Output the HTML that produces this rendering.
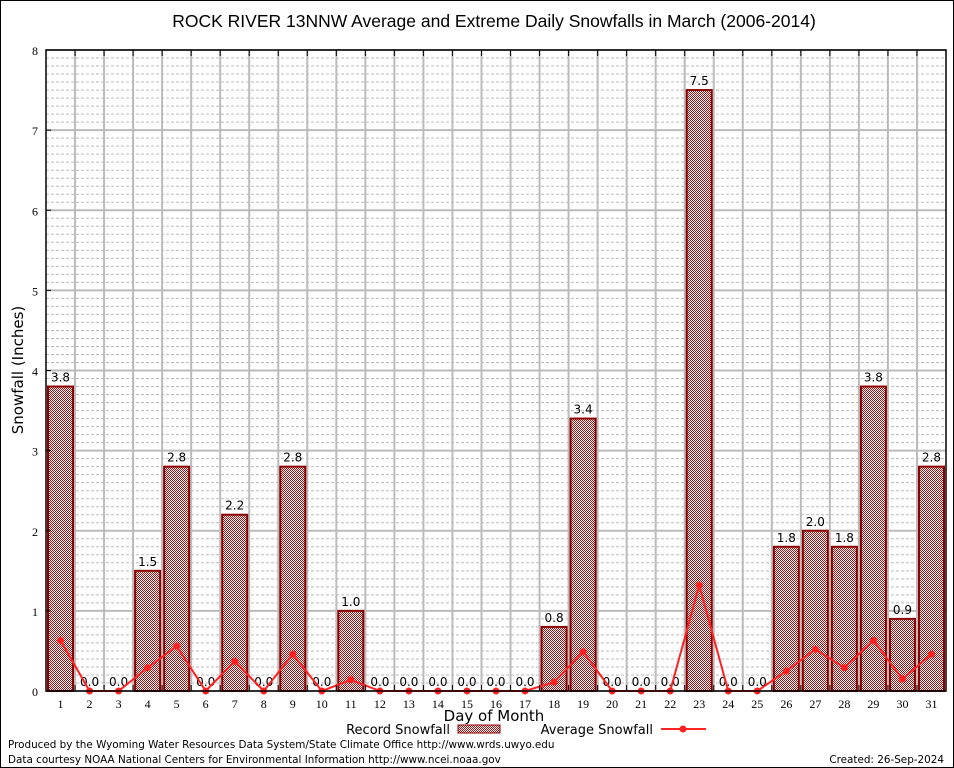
<!DOCTYPE html>
<html><head><meta charset="utf-8"><style>
html,body{margin:0;padding:0;background:#fff}
svg{display:block;font-family:"DejaVu Sans","Liberation Sans",sans-serif}
</style></head><body>
<svg id="c" width="954" height="768" xmlns="http://www.w3.org/2000/svg">
<defs>
<pattern id="hatch" width="2" height="2" patternUnits="userSpaceOnUse">
<rect width="2" height="2" fill="#fff"/>
<rect x="0" y="0" width="1" height="1" fill="#a01010"/>
<rect x="1" y="1" width="1" height="1" fill="#a01010"/>
</pattern>
</defs>
<rect x="0.5" y="0.5" width="953" height="767" fill="#fff" stroke="#000"/>
<text x="494" y="27" text-anchor="middle" font-size="17.5" font-family="Liberation Sans, sans-serif">ROCK RIVER 13NNW Average and Extreme Daily Snowfalls in March (2006-2014)</text>
<g id="grid"></g>
<g id="bars"></g>
<g id="line"></g>
<g id="axes"></g>
<text x="23" y="370" transform="rotate(-90 23 370)" text-anchor="middle" font-size="15">Snowfall (Inches)</text>
<text x="494" y="721" text-anchor="middle" font-size="15">Day of Month</text>
<g>
<text x="450" y="734" text-anchor="end" font-size="13">Record Snowfall</text>
<rect x="458" y="725" width="42" height="8" fill="url(#hatch)" stroke="#8b0000"/>
<text x="653" y="734" text-anchor="end" font-size="13">Average Snowfall</text>
<line x1="661" y1="729" x2="706" y2="729" stroke="#f22" stroke-width="2"/>
<circle cx="683" cy="729" r="3.5" fill="#f22"/>
</g>
<text x="8" y="748" font-size="10.4">Produced by the Wyoming Water Resources Data System/State Climate Office http://www.wrds.uwyo.edu</text>
<text x="8" y="763" font-size="10.4">Data courtesy NOAA National Centers for Environmental Information http://www.ncei.noaa.gov</text>
<text x="944" y="763" text-anchor="end" font-size="10.4">Created: 26-Sep-2024</text>
</svg>
<script>
const days = [1,2,3,4,5,6,7,8,9,10,11,12,13,14,15,16,17,18,19,20,21,22,23,24,25,26,27,28,29,30,31];
const recordValues = [3.8,0,0,1.5,2.8,0,2.2,0,2.8,0,1.0,0,0,0,0,0,0,0.8,3.4,0,0,0,7.5,0,0,1.8,2.0,1.8,3.8,0.9,2.8];
const averageValues = [0.63,0,0,0.29,0.56,0,0.37,0,0.46,0,0.14,0,0,0,0,0,0,0.11,0.49,0,0,0,1.32,0,0,0.25,0.52,0.29,0.63,0.15,0.46];
const yTicks = [0,1,2,3,4,5,6,7,8];

const L=46,R=946,T=50,B=691,YMAX=8;
const step=(R-L)/31;
const xs=d=>L+step*(d-0.5);
const ys=v=>B-(B-T)*v/YMAX;
const NS='http://www.w3.org/2000/svg';
function mk(tag,attrs,parent,text){const e=document.createElementNS(NS,tag);for(const k in attrs)e.setAttribute(k,attrs[k]);if(text!==undefined)e.textContent=text;parent.appendChild(e);return e;}
const grid=document.getElementById('grid'),bars=document.getElementById('bars'),line=document.getElementById('line'),axes=document.getElementById('axes');

for(let v=0.1;v<YMAX;v+=0.1){
  if(Math.abs(v-Math.round(v))<1e-6) continue;
  const e=mk('line',{x1:L,x2:R,y1:ys(v),y2:ys(v),stroke:'#bbb','stroke-dasharray':'3,2','stroke-width':1},grid);
  
  
}
yTicks.forEach(v=>{
  const e=mk('line',{x1:L,x2:R,y1:ys(v),y2:ys(v),stroke:'#bbb','stroke-width':2},grid);
  
  
  const t=mk('text',{x:L-8,y:ys(v)+5,'text-anchor':'end','font-size':12,'font-family':'Liberation Serif, serif'},axes,String(v));
  
  
  const tk=mk('line',{x1:L,x2:L+5,y1:ys(v),y2:ys(v),stroke:'#000'},axes);
  
  
});
for(let i=1;i<31;i++){
  const x=L+step*i;
  const e=mk('line',{x1:x,x2:x,y1:T,y2:B,stroke:'#bbb','stroke-width':2},grid);
  
  
  const tk=mk('line',{x1:x,x2:x,y1:B,y2:B-6,stroke:'#000'},axes);
  
  
  const tk2=mk('line',{x1:x,x2:x,y1:T,y2:T+6,stroke:'#000'},axes);
  
  
}
days.forEach((d,i)=>{
  const v=recordValues[i];
  if(v>0){
    const b=mk('rect',{x:xs(d)-12.5,y:ys(v),width:25,height:B-ys(v),fill:'url(#hatch)',stroke:'#8b0000','stroke-width':2},bars);
    
    
  }
  const t=mk('text',{x:xs(d),y:ys(v)-5,'text-anchor':'middle','font-size':12},bars,v.toFixed(1));
  
  
  const xl=mk('text',{x:xs(d),y:B+17,'text-anchor':'middle','font-size':12,'font-family':'Liberation Serif, serif'},axes,String(d));
  
  
});
const pts=days.map((d,i)=>xs(d)+','+ys(averageValues[i])).join(' ');
const pl=mk('polyline',{points:pts,fill:'none',stroke:'#f22','stroke-width':2},line);


days.forEach((d,i)=>{
  const c=mk('circle',{cx:xs(d),cy:ys(averageValues[i]),r:3.5,fill:'#f22'},line);
  
  
});
const fr=mk('rect',{x:L,y:T,width:R-L,height:B-T,fill:'none',stroke:'#000','stroke-width':1.5},axes);


</script>
</body></html>
